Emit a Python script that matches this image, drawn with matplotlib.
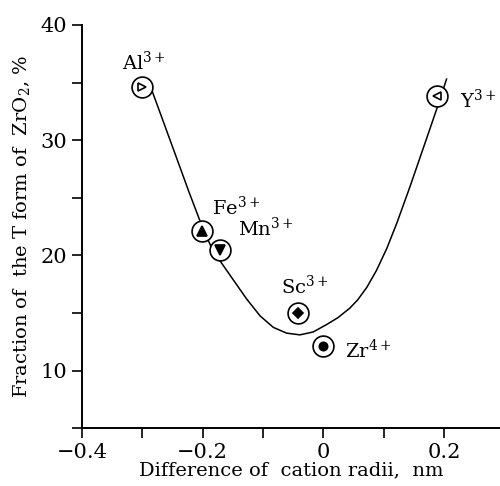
import numpy as np
import matplotlib.pyplot as plt
from matplotlib.ticker import MultipleLocator

plt.rcParams['font.family'] = ['DejaVu Serif']
plt.rcParams['mathtext.fontset'] = 'dejavuserif'

# measured points (cation radii difference, nm ; fraction of T form, %)
ions = ["Al", "Fe", "Mn", "Sc", "Zr", "Y"]
charges = ["3+", "3+", "3+", "3+", "4+", "3+"]
dr = [-0.30, -0.201, -0.171, -0.042, 0.0, 0.188]
frac = [34.6, 22.1, 20.5, 15.0, 12.1, 33.8]
inner = [">", "^", "v", "D", "o", "<"]
inner_fill = ["white", "black", "black", "black", "black", "white"]
inner_size = [6, 7, 7, 5, 6, 6]

# label anchors (left edge, vertical centre)
lab_x = [-0.334, -0.185, -0.142, -0.070, 0.036, 0.226]
lab_y = [36.8, 24.2, 22.4, 17.3, 11.8, 33.5]

# hand-drawn fitted curve
curve_x = [-0.291, -0.269, -0.246, -0.223, -0.1995, -0.186, -0.171, -0.149,
           -0.127, -0.105, -0.083, -0.061, -0.039, -0.017, 0.0055, 0.024,
           0.044, 0.057, 0.072, 0.088, 0.105, 0.1215, 0.1435, 0.160,
           0.1766, 0.193, 0.204]
curve_y = [35.29, 32.15, 28.85, 25.54, 22.3, 20.75, 19.5, 17.85,
           16.2, 14.75, 13.75, 13.25, 13.1, 13.35, 14.0, 14.59,
           15.43, 16.15, 17.23, 18.70, 20.60, 22.78, 25.97, 28.48,
           31.0, 33.51, 35.3]

fig = plt.figure(figsize=(5, 4.86), dpi=100)
ax = fig.add_axes([0.164, 0.119, 0.836, 0.8296])

ax.plot(curve_x, curve_y, color="black", lw=1.1, zorder=2)

for i in range(len(ions)):
    ax.plot(dr[i], frac[i], marker="o", ms=15, mfc="white", mec="black",
            mew=1.2, ls="none", zorder=3)
    ax.plot(dr[i], frac[i], marker=inner[i], ms=inner_size[i],
            mfc=inner_fill[i], mec="black", mew=1.2, ls="none", zorder=4)
    ax.text(lab_x[i], lab_y[i], ions[i] + "$^{" + charges[i] + "}$",
            fontsize=14, ha="left", va="center")

ax.set_xlim(-0.4, 0.2926)
ax.set_ylim(5, 40)
ax.xaxis.set_minor_locator(MultipleLocator(0.1))
ax.yaxis.set_minor_locator(MultipleLocator(5))
ax.set_xticks([-0.4, -0.2, 0, 0.2])
ax.set_xticklabels(["\u22120.4", "\u22120.2", "0", "0.2"])
ax.set_yticks([10, 20, 30, 40])
ax.tick_params(which="both", direction="out", length=7, width=1.2, labelsize=15)

for s in ["top", "right"]:
    ax.spines[s].set_visible(False)
for s in ["left", "bottom"]:
    ax.spines[s].set_linewidth(1.4)

ax.set_xlabel("Difference of  cation radii,  nm", fontsize=14, labelpad=0)
ax.set_ylabel("Fraction of  the T form of  ZrO$_2$, %", fontsize=14, labelpad=6)

plt.savefig("out.png", dpi=100)
